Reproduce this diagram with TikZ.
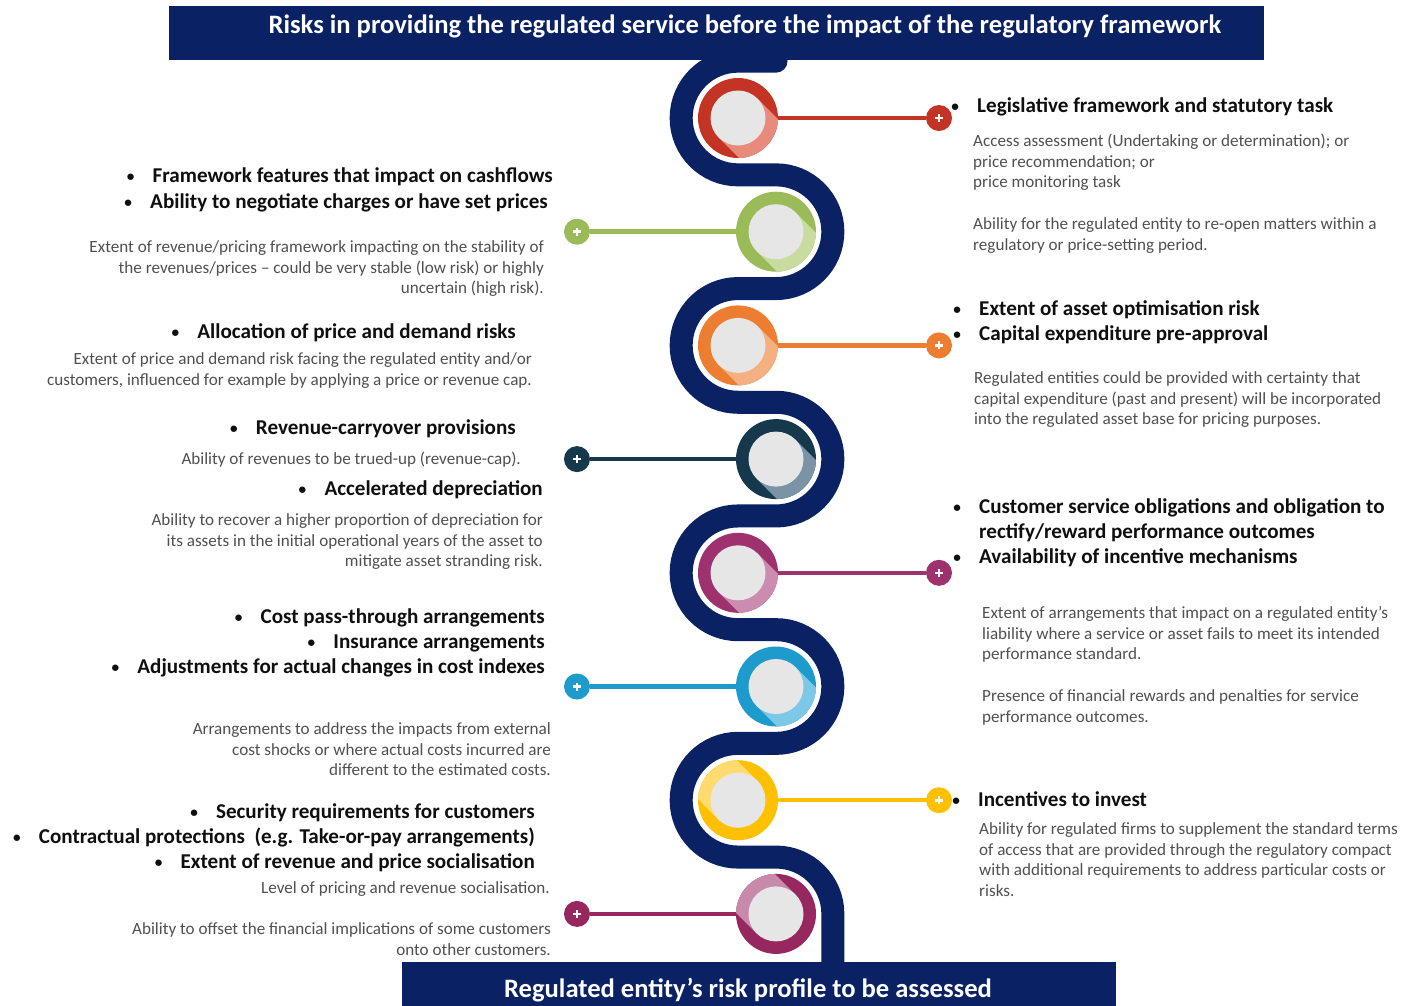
\documentclass[tikz,border=0pt]{standalone}
\usepackage{fontspec}
\usepackage{graphicx}
\setmainfont{Carlito}
\usetikzlibrary{calc}
\definecolor{navy}{RGB}{10,33,99}
\definecolor{headc}{RGB}{15,15,15}
\definecolor{bodyc}{RGB}{80,80,80}
\definecolor{innerg}{RGB}{230,230,230}
\definecolor{redm}{RGB}{196,52,36}\definecolor{redl}{RGB}{232,138,124}
\definecolor{grnm}{RGB}{155,187,89}\definecolor{grnl}{RGB}{200,220,160}
\definecolor{orgm}{RGB}{237,125,49}\definecolor{orgl}{RGB}{245,176,130}
\definecolor{tealm}{RGB}{22,56,76}\definecolor{teall}{RGB}{122,148,165}
\definecolor{purm}{RGB}{158,50,110}\definecolor{purl}{RGB}{204,140,176}
\definecolor{blum}{RGB}{30,155,205}\definecolor{blul}{RGB}{125,200,230}
\definecolor{yelm}{RGB}{255,192,0}\definecolor{yell}{RGB}{255,218,110}
\definecolor{magm}{RGB}{150,40,95}\definecolor{magl}{RGB}{200,138,170}
\newcommand\bul{\makebox[44pt][c]{\raisebox{0.05em}{\scalebox{0.72}{•}}}}
\newcommand\rb[1]{\begin{tabular}[t]{@{}r@{}}#1\end{tabular}}
\newcommand\lb[1]{\begin{tabular}[t]{@{}l@{}}#1\end{tabular}}
\tikzset{
  hd/.style={font=\fontsize{21.1}{25}\selectfont\bfseries, text=headc, inner sep=0pt},
  bd/.style={font=\fontsize{17.1}{20.7}\selectfont, text=bodyc, inner sep=0pt},
  ttl/.style={font=\fontsize{26.6}{30}\selectfont\bfseries, text=white, inner sep=0pt, anchor=base},
  banner/.style={fill=navy, draw=none, inner sep=0pt},
  ringn/.style={circle, minimum size=80pt, inner sep=0pt},
  conn/.style={line width=4.5pt},
  dotn/.style={circle, minimum size=26pt, inner sep=0pt,
    path picture={\draw[white, line width=2.6pt]
      ($(path picture bounding box.center)+(-4pt,0)$) -- ++(8pt,0)
      ($(path picture bounding box.center)+(0,-4pt)$) -- ++(0,8pt);}},
  snake/.style={draw=navy, line width=23pt, line cap=round}
}
% #1 name, #2 x, #3 y, #4 main, #5 light, #6 shadow vector
\newcommand\ringdraw[6]{%
  \fill[#4] (#2,#3) circle[radius=40pt];
  \begin{scope}
    \clip (#2,#3) circle[radius=40pt];
    \fill[#5] ($(#2,#3)+(19.45,19.45)$) -- ++(#6) -- ++(-38.9,-38.9) -- ($(#2,#3)+(-19.45,-19.45)$) -- cycle;
  \end{scope}
  \fill[innerg] (#2,#3) circle[radius=27.5pt];
  \node[ringn] (#1) at (#2,#3) {};
}
\begin{document}
\begin{tikzpicture}[x=1pt, y=1pt]
\useasboundingbox (0,0) rectangle (1407,-1005);
\fill[white] (0,0) rectangle (1407,-1005);

% snake
\draw[snake] (776,-61.15) -- (738,-61.15)
  arc[start angle=90, end angle=270, radius=56.85pt] -- ++(38,0)
  arc[start angle=90, end angle=-90, radius=56.85pt] -- ++(-38,0)
  arc[start angle=90, end angle=270, radius=56.85pt] -- ++(38,0)
  arc[start angle=90, end angle=-90, radius=56.85pt] -- ++(-38,0)
  arc[start angle=90, end angle=270, radius=56.85pt] -- ++(38,0)
  arc[start angle=90, end angle=-90, radius=56.85pt] -- ++(-38,0)
  arc[start angle=90, end angle=270, radius=56.85pt] -- ++(38,0)
  arc[start angle=90, end angle=0, radius=56.85pt] -- ++(0,-60);

% banners
\node[banner, minimum width=1095pt, minimum height=54pt] (topbar) at (716.5,-33) {};
\node[banner, minimum width=714pt, minimum height=48pt] (botbar) at (759,-986) {};
\node[ttl] (toptxt) at (745,-33) {Risks in providing the regulated service before the impact of the regulatory framework};
\node[ttl] (bottxt) at (748,-997) {Regulated entity’s risk profile to be assessed};

% connector end dots
\node[dotn, fill=redm]  (d1) at (939,-118) {};
\node[dotn, fill=grnm]  (d2) at (577,-231.7) {};
\node[dotn, fill=orgm]  (d3) at (939,-345.4) {};
\node[dotn, fill=tealm] (d4) at (577,-459.1) {};
\node[dotn, fill=purm]  (d5) at (939,-572.8) {};
\node[dotn, fill=blum]  (d6) at (577,-686.5) {};
\node[dotn, fill=yelm]  (d7) at (939,-800.2) {};
\node[dotn, fill=magm]  (d8) at (577,-913.9) {};

% rings
\ringdraw{c1}{738}{-118}{redm}{redl}{60,-60}
\ringdraw{c2}{776}{-231.7}{grnm}{grnl}{60,-60}
\ringdraw{c3}{738}{-345.4}{orgm}{orgl}{60,-60}
\ringdraw{c4}{776}{-459.1}{tealm}{teall}{60,-60}
\ringdraw{c5}{738}{-572.8}{purm}{purl}{60,-60}
\ringdraw{c6}{776}{-686.5}{blum}{blul}{60,-60}
\ringdraw{c7}{738}{-800.2}{yelm}{yell}{-60,60}
\ringdraw{c8}{776}{-913.9}{magm}{magl}{-60,60}

% connectors
\draw[conn, redm]  (c1) -- (d1);
\draw[conn, grnm]  (c2) -- (d2);
\draw[conn, orgm]  (c3) -- (d3);
\draw[conn, tealm] (c4) -- (d4);
\draw[conn, purm]  (c5) -- (d5);
\draw[conn, blum]  (c6) -- (d6);
\draw[conn, yelm]  (c7) -- (d7);
\draw[conn, magm]  (c8) -- (d8);

% left texts
\node[hd, anchor=base east] (hl1) at (553,-182.5) {\bul Framework features that impact on cashflows};
\node[hd, anchor=base east] (hl2) at (548,-208.5) {\bul Ability to negotiate charges or have set prices};
\node[bd, anchor=base east] (bl1) at (544,-252.5) {\rb{Extent of revenue/pricing framework impacting on the stability of\\the revenues/prices – could be very stable (low risk) or highly\\uncertain (high risk).}};
\node[hd, anchor=base east] (hl3) at (516,-338.5) {\bul Allocation of price and demand risks};
\node[bd, anchor=base east] (bl2) at (532,-364.5) {\rb{Extent of price and demand risk facing the regulated entity and/or\\customers, influenced for example by applying a price or revenue cap.}};
\node[hd, anchor=base east] (hl4) at (516,-434.5) {\bul Revenue-carryover provisions};
\node[bd, anchor=base east] (bl3) at (521,-464.5) {Ability of revenues to be trued-up (revenue-cap).};
\node[hd, anchor=base east] (hl5) at (543,-495.5) {\bul Accelerated depreciation};
\node[bd, anchor=base east] (bl4) at (543,-525.5) {\rb{Ability to recover a higher proportion of depreciation for\\its assets in the initial operational years of the asset to\\mitigate asset stranding risk.}};
\node[hd, anchor=base east] (hl6) at (545,-623.5) {\rb{\bul Cost pass-through arrangements\\\bul Insurance arrangements\\\bul Adjustments for actual changes in cost indexes}};
\node[bd, anchor=base east] (bl5) at (551,-734.5) {\rb{Arrangements to address the impacts from external\\cost shocks or where actual costs incurred are\\different to the estimated costs.}};
\node[hd, anchor=base east] (hl7) at (535,-818.5) {\rb{\bul Security requirements for customers\\\bul Contractual protections\ \ (e.g. Take-or-pay arrangements)\\\bul Extent of revenue and price socialisation}};
\node[bd, anchor=base east] (bl6) at (550,-893.5) {Level of pricing and revenue socialisation.};
\node[bd, anchor=base east] (bl7) at (551,-934.5) {\rb{Ability to offset the financial implications of some customers\\onto other customers.}};

% right texts
\node[hd, anchor=base west] (hr1) at (933,-112.5) {\bul Legislative framework and statutory task};
\node[bd, anchor=base west] (br1) at (973,-146.5) {\lb{Access assessment (Undertaking or determination); or\\price recommendation; or\\price monitoring task\\ \\Ability for the regulated entity to re-open matters within a\\regulatory or price-setting period.}};
\node[hd, anchor=base west] (hr2) at (935,-315.5) {\lb{\bul Extent of asset optimisation risk\\\bul Capital expenditure pre-approval}};
\node[bd, anchor=base west] (br2) at (974,-383.5) {\lb{Regulated entities could be provided with certainty that\\capital expenditure (past and present) will be incorporated\\into the regulated asset base for pricing purposes.}};
\node[hd, anchor=base west] (hr3) at (935,-513.5) {\lb{\bul Customer service obligations and obligation to\\\hspace*{44pt}rectify/reward performance outcomes\\\bul Availability of incentive mechanisms}};
\node[bd, anchor=base west] (br3) at (982,-618.5) {\lb{Extent of arrangements that impact on a regulated entity’s\\liability where a service or asset fails to meet its intended\\performance standard.\\ \\Presence of financial rewards and penalties for service\\performance outcomes.}};
\node[hd, anchor=base west] (hr4) at (934,-806.5) {\bul Incentives to invest};
\node[bd, anchor=base west] (br4) at (979,-834.5) {\lb{Ability for regulated firms to supplement the standard terms\\of access that are provided through the regulatory compact\\with additional requirements to address particular costs or\\risks.}};
\end{tikzpicture}
\end{document}
